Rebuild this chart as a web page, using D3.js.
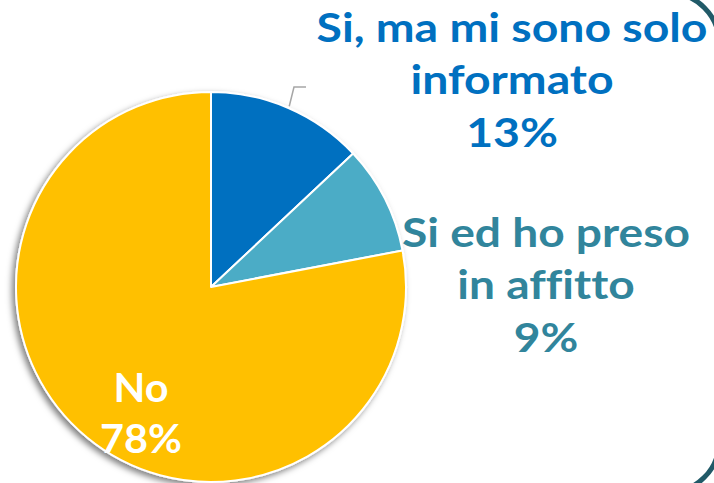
<!DOCTYPE html>
<html>
<head>
<meta charset="utf-8">
<script src="https://cdn.jsdelivr.net/npm/d3@7"></script>
<style>
  html, body { margin: 0; padding: 0; background: #fff; }
  svg { display: block; }
  text { font-variant-ligatures: none; font-feature-settings: "liga" 0; }
</style>
</head>
<body>
<svg id="svg" width="714" height="483"></svg>
<script>
// answer categories and their shares (%)
var categories = ["Si, ma mi sono solo informato", "Si ed ho preso in affitto", "No"];
var shares = [13, 9, 78];
var labelLines = [["Si, ma mi sono solo", "informato", "13%"], ["Si ed ho preso", "in affitto", "9%"], ["No", "78%"]];
var sliceColors = ["#0070C0", "#4BACC6", "#FFC000"];
var labelColors = ["#0070C0", "#31859C", "#FFFFFF"];

var svg = d3.select("#svg"),
  cx = 211,
  cy = 287,
  radius = 195;

var defs = svg.append("defs");
var shadow = defs.append("filter")
  .attr("id", "shadow")
  .attr("x", "-20%").attr("y", "-20%")
  .attr("width", "140%").attr("height", "140%");
shadow.append("feDropShadow")
  .attr("dx", -3)
  .attr("dy", 3)
  .attr("stdDeviation", 3)
  .attr("flood-color", "#000")
  .attr("flood-opacity", 0.5);

// frame of the slide on the right (only the corners show)
svg.append("rect")
  .attr("x", -300)
  .attr("y", -7)
  .attr("width", 1019)
  .attr("height", 499)
  .attr("rx", 50)
  .attr("fill", "none")
  .attr("stroke", "#215A68")
  .attr("stroke-width", 5);

var data = categories.map(function (c, i) {
  return {name: c, value: shares[i], color: sliceColors[i], lines: labelLines[i], textColor: labelColors[i]};
});

var pie = d3.pie()
  .sort(null)
  .value(function (d) { return d.value; });

var arc = d3.arc()
  .innerRadius(0)
  .outerRadius(radius);

var arcs = pie(data);

var g = svg.append("g")
  .attr("transform", "translate(" + cx + "," + cy + ")");

g.append("g")
  .attr("filter", "url(#shadow)")
  .selectAll("path")
  .data(arcs)
  .enter()
  .append("path")
  .attr("d", arc)
  .attr("fill", function (d) { return d.data.color; })
  .attr("stroke", "#fff")
  .attr("stroke-width", 2)
  .attr("stroke-linejoin", "round");

// leader line for the first slice
var a0 = (arcs[0].startAngle + arcs[0].endAngle) / 2;
var p0 = [Math.sin(a0) * (radius + 2), -Math.cos(a0) * (radius + 2)];
g.append("polyline")
  .attr("points", [p0, [294 - cx, 87 - cy], [306 - cx, 87 - cy]].map(function (p) { return p.join(","); }).join(" "))
  .attr("fill", "none")
  .attr("stroke", "#A6A6A6")
  .attr("stroke-width", 1.5);

// label layout: centre x, first baseline, line step, width of widest line
var labelPos = [
  {x: 512, y: 42, step: 52.5, w: 391},
  {x: 546, y: 247, step: 52.5, w: 288},
  {x: 141, y: 402, step: 51, w: 82}
];

var labels = svg.append("g")
  .attr("font-family", "'Century Gothic', Lato, 'DejaVu Sans', sans-serif")
  .attr("font-weight", "bold")
  .attr("text-anchor", "middle");

data.forEach(function (d, i) {
  var pos = labelPos[i];
  var block = labels.append("g");
  var t = block.append("text")
    .attr("fill", d.textColor)
    .attr("font-size", 41);
  d.lines.forEach(function (line, j) {
    t.append("tspan")
      .attr("x", 0)
      .attr("y", pos.y + j * pos.step)
      .text(line);
  });
  // stretch sideways to the wide Century Gothic look
  var w = t.node().getBBox().width;
  block.attr("transform", "translate(" + pos.x + ",0) scale(" + (pos.w / w) + ",1)");
});
</script>
</body>
</html>
